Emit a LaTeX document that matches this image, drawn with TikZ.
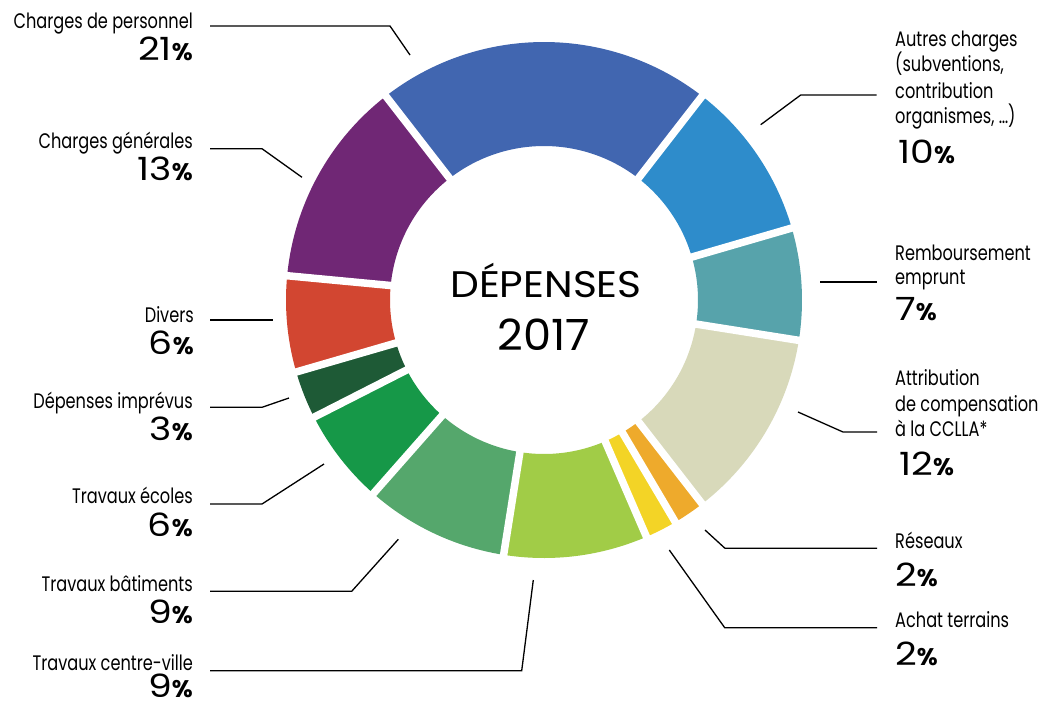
\documentclass[tikz,border=0pt]{standalone}
\usepackage{fontspec}
\setmainfont{Poppins}
\newfontfamily\lblfont[FakeStretch=0.77]{Poppins}
\newfontfamily\numfont[FakeStretch=1.18]{Poppins}
\newfontfamily\pcfont{Poppins}
\newfontfamily\ctrfont[FakeStretch=1.1]{Poppins}
\newfontfamily\yrfont[FakeStretch=1.04]{Poppins}
\usetikzlibrary{calc}
\definecolor{cP}{HTML}{4166B0}
\definecolor{cA}{HTML}{2E8CCB}
\definecolor{cR}{HTML}{57A3AB}
\definecolor{cAt}{HTML}{D8D9BA}
\definecolor{cRe}{HTML}{EEAA2C}
\definecolor{cAc}{HTML}{F3D426}
\definecolor{cCv}{HTML}{A1CC47}
\definecolor{cB}{HTML}{55A76C}
\definecolor{cE}{HTML}{169848}
\definecolor{cI}{HTML}{1E5A36}
\definecolor{cD}{HTML}{D24631}
\definecolor{cG}{HTML}{702775}
\newcommand\pc{{\pcfont\bfseries\fontsize{24}{24}\selectfont\%}}
\tikzset{
  lbl/.style={font=\lblfont\fontsize{21}{21}\selectfont, inner sep=0pt},
  pct/.style={font=\numfont\fontsize{32}{32}\selectfont, inner sep=0pt},
  lbll/.style={lbl, anchor=base east},
  lblr/.style={lbl, anchor=base west},
  pctl/.style={pct, anchor=base east},
  pctr/.style={pct, anchor=base west},
  leader/.style={line width=1.3pt, black},
  gap/.style={white, line width=7.5pt},
  ctr/.style={font=\ctrfont\fontsize{37}{37}\selectfont, inner sep=0pt, anchor=base}
}
\begin{document}
\begin{tikzpicture}[x=1pt,y=1pt]
\useasboundingbox[fill=white] (0,0) rectangle (1045,-705);
\coordinate (c) at (544,-300);
% segments
\foreach \a/\b/\col in {127.8/52.2/cP, 52.2/16.2/cA, 16.2/-9/cR, -9/-52.2/cAt,
  -52.2/-59.4/cRe, -59.4/-66.6/cAc, -66.6/-99/cCv, -99/-131.4/cB,
  -131.4/-153/cE, -153/-163.8/cI, -163.8/-185.4/cD, 174.6/127.8/cG}{
  \fill[\col] (c) ++(\a:258) arc[start angle=\a, end angle=\b, radius=258]
    -- ($(c)+(\b:154)$) arc[start angle=\b, end angle=\a, radius=154] -- cycle;
}
\foreach \a in {127.8,52.2,16.2,-9,-52.2,-59.4,-66.6,-99,-131.4,-153,-163.8,174.6}{
  \draw[gap] (c) -- ++(\a:272);
}
% centre
\node[ctr] (t1) at (546,-297) {DÉPENSES};
\node[ctr, font=\yrfont\fontsize{43}{43}\selectfont] (t2) at (544,-350) {2017};

% left labels
\node[lbll] (l1) at (193,-28.3) {Charges de personnel};
\node[pctl] (p1) at (193,-60) {21\pc};
\coordinate (l1a) at (210,-26); \coordinate (l1b) at (390,-26); \coordinate (l1c) at (410,-55);
\draw[leader] (l1a) -- (l1b) -- (l1c);

\node[lbll] (l2) at (193,-148) {Charges générales};
\node[pctl] (p2) at (193,-180) {13\pc};
\coordinate (l2a) at (210,-148.7); \coordinate (l2b) at (262,-148.7); \coordinate (l2c) at (302,-177.3);
\draw[leader] (l2a) -- (l2b) -- (l2c);

\node[lbll] (l3) at (194,-322) {Divers};
\node[pctl] (p3) at (194,-354) {6\pc};
\coordinate (l3a) at (210,-320); \coordinate (l3b) at (273,-320);
\draw[leader] (l3a) -- (l3b);

\node[lbll] (l4) at (193,-408) {Dépenses imprévus};
\node[pctl] (p4) at (193,-440) {3\pc};
\coordinate (l4a) at (210,-407.3); \coordinate (l4b) at (262,-407.3); \coordinate (l4c) at (289,-398);
\draw[leader] (l4a) -- (l4b) -- (l4c);

\node[lbll] (l5) at (193,-503.3) {Travaux écoles};
\node[pctl] (p5) at (193,-536) {6\pc};
\coordinate (l5a) at (210,-504); \coordinate (l5b) at (262,-504); \coordinate (l5c) at (324,-464);
\draw[leader] (l5a) -- (l5b) -- (l5c);

\node[lbll] (l6) at (193,-591.7) {Travaux bâtiments};
\node[pctl] (p6) at (193,-623.3) {9\pc};
\coordinate (l6a) at (210,-591.3); \coordinate (l6b) at (351.7,-591.3); \coordinate (l6c) at (398.3,-539.3);
\draw[leader] (l6a) -- (l6b) -- (l6c);

\node[lbll] (l7) at (193,-670) {Travaux centre-ville};
\node[pctl] (p7) at (193,-697) {9\pc};
\coordinate (l7a) at (210,-670.7); \coordinate (l7b) at (521.7,-670.7); \coordinate (l7c) at (533.3,-580);
\draw[leader] (l7a) -- (l7b) -- (l7c);

% right labels
\node[lblr] (r1a) at (895,-46.7) {Autres charges};
\node[lblr] (r1b) at (895,-71.7) {(subventions,};
\node[lblr] (r1c) at (895,-98.3) {contribution};
\node[lblr] (r1d) at (895,-123.3) {organismes, \dots)};
\node[pctr] (q1) at (898,-163) {10\pc};
\coordinate (r1x) at (760.7,-124.7); \coordinate (r1y) at (800.7,-95); \coordinate (r1z) at (876.7,-95);
\draw[leader] (r1x) -- (r1y) -- (r1z);

\node[lblr] (r2a) at (895,-260.7) {Remboursement};
\node[lblr] (r2b) at (895,-284.3) {emprunt};
\node[pctr] (q2) at (895,-320) {7\pc};
\coordinate (r2x) at (820,-282); \coordinate (r2y) at (876.7,-282);
\draw[leader] (r2x) -- (r2y);

\node[lblr] (r3a) at (895,-385) {Attribution};
\node[lblr] (r3b) at (895,-411.7) {de compensation};
\node[lblr] (r3c) at (895,-436.7) {à la CCLLA*};
\node[pctr] (q3) at (899,-475) {12\pc};
\coordinate (r3x) at (798,-412); \coordinate (r3y) at (843,-432); \coordinate (r3z) at (877,-432);
\draw[leader] (r3x) -- (r3y) -- (r3z);

\node[lblr] (r4a) at (895,-548.3) {Réseaux};
\node[pctr] (q4) at (895,-586.7) {2\pc};
\coordinate (r4x) at (705,-530); \coordinate (r4y) at (725,-548.3); \coordinate (r4z) at (877,-548.3);
\draw[leader] (r4x) -- (r4y) -- (r4z);

\node[lblr] (r5a) at (895,-627) {Achat terrains};
\node[pctr] (q5) at (895,-665) {2\pc};
\coordinate (r5x) at (669.3,-550); \coordinate (r5y) at (724.7,-627.7); \coordinate (r5z) at (877,-627.7);
\draw[leader] (r5x) -- (r5y) -- (r5z);
\end{tikzpicture}
\end{document}
